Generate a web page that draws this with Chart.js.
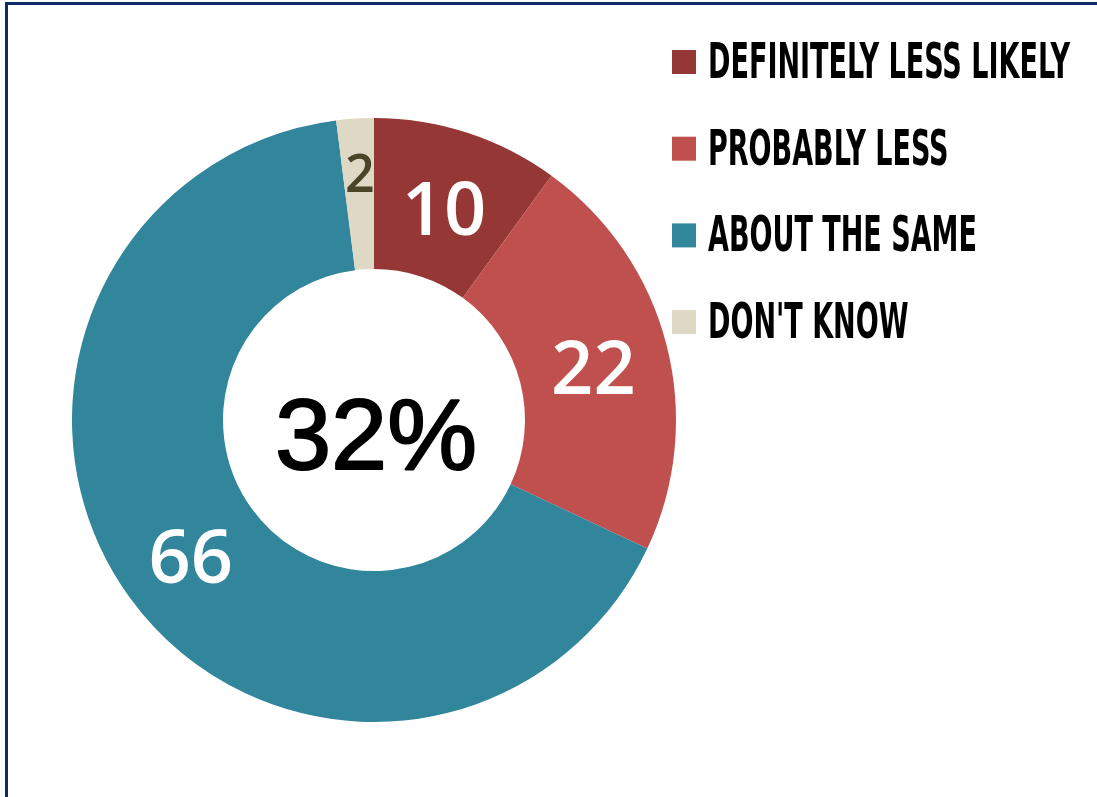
<!DOCTYPE html>
<html>
<head>
<meta charset="utf-8">
<script src="https://cdn.jsdelivr.net/npm/chart.js@4/dist/chart.umd.min.js"></script>
<style>
  html, body { margin: 0; padding: 0; background: #fff; }
  #wrap { position: relative; width: 1097px; height: 797px; overflow: hidden; }
  #frame {
    position: absolute; left: 5px; top: 2px; width: 1090px; height: 800px;
    border-top: 3px solid #0e2a6b; border-left: 3px solid #0e2a6b;
  }
  #pieChart { position: absolute; left: 0; top: 0; }
</style>
</head>
<body>
<div id="wrap">
  <div id="frame"></div>
  <canvas id="pieChart" width="1097" height="797"></canvas>
</div>
<script>
// data
const categories = ["DEFINITELY LESS LIKELY", "PROBABLY LESS", "ABOUT THE SAME", "DON'T KNOW"];
const values = [10, 22, 66, 2];
const sliceColors = ["#953735", "#c0504d", "#31869c", "#ddd9c4"];
const labelColors = ["#ffffff", "#ffffff", "#ffffff", "#4a4529"];
const labelSizes = [74, 74, 74, 52];
const centerParts = [0, 1]; // slices added up for the big number in the middle

/* ---------- value labels on slices ---------- */
const sliceLabels = {
  id: "sliceLabels",
  afterDatasetsDraw(chart) {
    const ctx = chart.ctx;
    const meta = chart.getDatasetMeta(0);
    ctx.save();
    ctx.textAlign = "center";
    ctx.textBaseline = "middle";
    meta.data.forEach((arc, i) => {
      const p = arc.tooltipPosition();
      const small = values[i] < 5;
      ctx.font = "600 " + labelSizes[i] + "px 'Open Sans'";
      ctx.fillStyle = labelColors[i];
      // small slice label sits a bit further out, like the original
      ctx.fillText(String(values[i]), p.x, p.y + (small ? -17 : 9));
    });
    ctx.restore();
  }
};

/* ---------- big number in the hole ---------- */
const centerText = {
  id: "centerText",
  afterDraw(chart) {
    const ctx = chart.ctx;
    const arc = chart.getDatasetMeta(0).data[0];
    let total = 0;
    centerParts.forEach(i => total += values[i]);
    ctx.save();
    ctx.font = "101px 'Liberation Sans', Arial";
    ctx.fillStyle = "#000";
    ctx.strokeStyle = "#000";
    ctx.lineWidth = 2;
    ctx.lineJoin = "round";
    ctx.textAlign = "center";
    ctx.textBaseline = "alphabetic";
    ctx.fillText(total + "%", arc.x + 2, arc.y + 49);
    ctx.strokeText(total + "%", arc.x + 2, arc.y + 49);
    ctx.restore();
  }
};

/* ---------- legend drawn on the right ---------- */
const sideLegend = {
  id: "sideLegend",
  afterDraw(chart) {
    const ctx = chart.ctx;
    const boxX = 672, boxTop = 50, box = 24, rowGap = 86.7;
    const textX = 708, baseTop = 78, longest = 362;
    ctx.save();
    ctx.font = "bold 49px 'Liberation Sans Narrow', 'DejaVu Sans Condensed', sans-serif";
    let widest = 0;
    categories.forEach(c => widest = Math.max(widest, ctx.measureText(c).width));
    const sx = longest / widest;
    categories.forEach((c, i) => {
      const y = i * rowGap;
      ctx.fillStyle = sliceColors[i];
      ctx.fillRect(boxX, boxTop + y, box, box);
      ctx.save();
      ctx.translate(textX, baseTop + y);
      ctx.scale(sx, 1);
      ctx.fillStyle = "#000";
      ctx.textBaseline = "alphabetic";
      ctx.fillText(c, 0, 0);
      ctx.restore();
    });
    ctx.restore();
  }
};

function initChart() {
  new Chart(document.getElementById("pieChart"), {
    type: "doughnut",
    data: {
      labels: categories,
      datasets: [{
        data: values,
        backgroundColor: sliceColors,
        borderWidth: 0
      }]
    },
    options: {
      responsive: false,
      animation: false,
      cutout: "50%",
      layout: { padding: { left: 72, right: 421, top: 118, bottom: 75 } },
      plugins: {
        legend: { display: false },
        tooltip: { enabled: false }
      }
    },
    plugins: [sliceLabels, centerText, sideLegend]
  });
}

window.onload = initChart;
</script>
</body>
</html>
